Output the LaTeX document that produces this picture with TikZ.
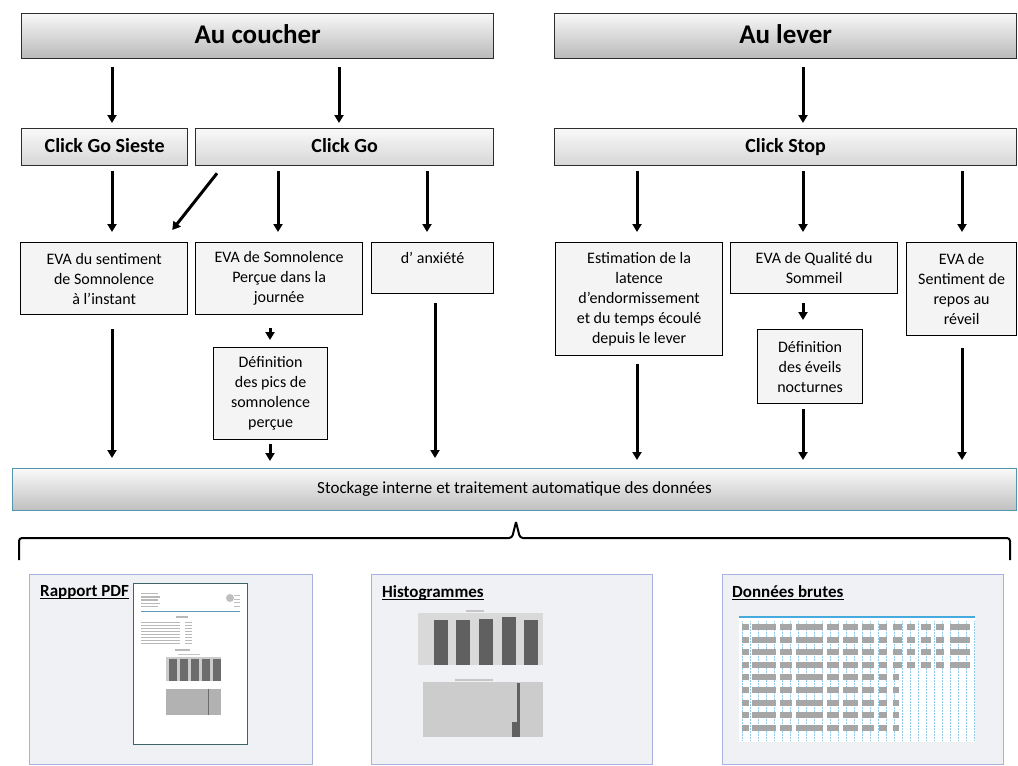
\documentclass[tikz,border=0pt]{standalone}
\usepackage{fontspec}
\setmainfont{Carlito}
\usetikzlibrary{arrows.meta, positioning, calc}
\definecolor{barborder}{RGB}{45,45,45}
\definecolor{panelfill}{RGB}{239,241,244}
\definecolor{panelline}{RGB}{168,178,222}
\definecolor{stockline}{RGB}{80,150,175}
\definecolor{pageline}{RGB}{60,100,105}
\definecolor{gridblue}{RGB}{70,170,220}

\tikzset{
  phase/.style={draw=barborder, line width=1.3pt, top color=gray!6, bottom color=gray!55,
    anchor=north west, inner sep=0pt, text height=19pt, text depth=5pt,
    font=\bfseries\fontsize{27}{30}\selectfont},
  clic/.style={draw=barborder, line width=1.3pt, top color=gray!5, bottom color=gray!32,
    anchor=north west, inner sep=0pt, text height=14pt, text depth=4pt,
    font=\bfseries\fontsize{20}{24}\selectfont},
  eva/.style={draw=black, line width=1.2pt, fill=gray!9, anchor=north west, align=center,
    inner sep=0pt, font=\fontsize{16}{20}\selectfont},
  panel/.style={draw=panelline, line width=1.2pt, fill=panelfill, anchor=north west, inner sep=0pt},
  titre/.style={inner sep=0pt, font=\bfseries\fontsize{17}{20}\selectfont},
  fleche/.style={-{Triangle[width=9pt,length=8pt]}, line width=3pt},
}

\begin{document}
\begin{tikzpicture}[x=1pt, y=-1pt]
  \useasboundingbox[fill=white] (0,0) rectangle (1018,766);

  % phases
  \node[phase, minimum width=472pt, minimum height=45pt] (coucher) at (21,13) {Au coucher};
  \node[phase, minimum width=462pt, minimum height=45pt] (lever) at (554,13) {Au lever};

  % clicks
  \node[clic, minimum width=166pt, minimum height=37pt] (sieste) at (21,128) {Click Go Sieste};
  \node[clic, minimum width=298pt, minimum height=37pt] (go) at (195,128) {Click Go};
  \node[clic, minimum width=462pt, minimum height=37pt] (stop) at (554,128) {Click Stop};

  % echelles
  \node[eva, minimum width=167pt, minimum height=72pt] (sentiment) at (20,242) {EVA du sentiment\\de Somnolence\\à l’instant};
  \node[eva, minimum width=167pt, minimum height=72pt] (journee) at (195,242) {EVA de Somnolence\\Perçue dans la\\journée};
  \node[eva, minimum width=122pt, minimum height=51pt] (anxiete) at (371,242) {d’ anxiété\\\mbox{}};
  \node[eva, minimum width=114pt, minimum height=92pt] (pics) at (213,347) {Définition\\des pics de\\somnolence\\perçue};
  \node[eva, minimum width=167pt, minimum height=113pt] (latence) at (555,242) {Estimation de la\\latence\\d’endormissement\\et du temps écoulé\\depuis le lever};
  \node[eva, minimum width=167pt, minimum height=51pt] (qualite) at (730,242) {EVA de Qualité du\\Sommeil};
  \node[eva, minimum width=105pt, minimum height=74pt] (eveils) at (757,329) {Définition\\des éveils\\nocturnes};
  \node[eva, minimum width=110pt, minimum height=93pt] (repos) at (906,242) {EVA de\\Sentiment de\\repos au\\réveil};

  \node[anchor=north west, draw=stockline, line width=1pt, top color=gray!4, bottom color=gray!50,
    minimum width=1004pt, minimum height=42pt, inner sep=0pt, font=\fontsize{17}{20}\selectfont]
    (stockage) at (12,468) {Stockage interne et traitement automatique des données};

  % colonnes des fleches
  \coordinate (xa) at (112,0);
  \coordinate (xb) at (339,0);
  \coordinate (xc) at (803,0);
  \coordinate (xd) at (278,0);
  \coordinate (xe) at (427,0);
  \coordinate (xf) at (637,0);
  \coordinate (xg) at (962,0);
  \coordinate (xh) at (270,0);
  \coordinate (xi) at (435,0);

  \draw[fleche, shorten <=8pt, shorten >=5pt] (coucher.south -| xa) -- (sieste.north -| xa);
  \draw[fleche, shorten <=8pt, shorten >=5pt] (coucher.south -| xb) -- (go.north -| xb);
  \draw[fleche, shorten <=8pt, shorten >=5pt] (lever.south -| xc) -- (stop.north -| xc);

  \draw[fleche, shorten <=5pt, shorten >=10pt] (sieste.south -| xa) -- (sentiment.north -| xa);
  \draw[fleche] ([shift={(22,7)}]go.south west) -- ([shift={(-16,-12)}]sentiment.north east);
  \draw[fleche, shorten <=5pt, shorten >=10pt] (go.south -| xd) -- (journee.north -| xd);
  \draw[fleche, shorten <=5pt, shorten >=10pt] (go.south -| xe) -- (anxiete.north -| xe);
  \draw[fleche, shorten <=5pt, shorten >=10pt] (stop.south -| xf) -- (latence.north -| xf);
  \draw[fleche, shorten <=5pt, shorten >=10pt] (stop.south -| xc) -- (qualite.north -| xc);
  \draw[fleche, shorten <=5pt, shorten >=10pt] (stop.south -| xg) -- (repos.north -| xg);

  \draw[fleche, shorten <=13pt, shorten >=7pt] (journee.south -| xh) -- (pics.north -| xh);
  \draw[fleche, shorten <=9pt, shorten >=9pt] (qualite.south -| xc) -- (eveils.north -| xc);

  \draw[fleche, shorten <=14pt, shorten >=10pt] (sentiment.south -| xa) -- (stockage.north -| xa);
  \draw[fleche, shorten <=4pt, shorten >=7pt] (pics.south -| xh) -- (stockage.north -| xh);
  \draw[fleche, shorten <=9pt, shorten >=10pt] (anxiete.south -| xi) -- (stockage.north -| xi);
  \draw[fleche, shorten <=8pt, shorten >=8pt] (latence.south -| xf) -- (stockage.north -| xf);
  \draw[fleche, shorten <=5pt, shorten >=8pt] (eveils.south -| xc) -- (stockage.north -| xc);
  \draw[fleche, shorten <=12pt, shorten >=8pt] (repos.south -| xg) -- (stockage.north -| xg);

  % accolade
  \draw[line width=2pt, rounded corners=3pt] (19,560) -- (19,538) -- (512,538) -- (516,522);
  \draw[line width=2pt, rounded corners=3pt] (516,522) -- (520,538) -- (1010,538) -- (1010,560);

  % sorties
  \node[panel, minimum width=283pt, minimum height=190pt] (rapport) at (29,574) {};
  \node[panel, minimum width=281pt, minimum height=190pt] (histo) at (371,574) {};
  \node[panel, minimum width=281pt, minimum height=190pt] (brutes) at (722,574) {};

  \node[titre, anchor=north west, below right=11pt and 11pt of rapport.north west] (trapport) {Rapport PDF};
  \node[titre, anchor=north west, below right=11pt and 11pt of histo.north west] (thisto) {Histogrammes};
  \node[titre, anchor=north west, below right=11pt and 10pt of brutes.north west] (tbrutes) {Données brutes};
  \foreach \t in {trapport, thisto, tbrutes}
    \draw[line width=1.5pt] ([yshift=-2.5pt]\t.base west) -- ([yshift=-2.5pt]\t.base east);

  % apercu du rapport
  \draw[pageline, fill=white, line width=1pt] (133,583) rectangle (247,744);
  \foreach \i in {0,...,4}
    \fill[gray!55] (141,{593+3.2*\i}) rectangle ({158+2*mod(\i,2)},{594.4+3.2*\i});
  \fill[gray!50] (230,598) circle (4);
  \foreach \i in {0,...,3}
    \fill[gray!50] (234,{595+3.5*\i}) rectangle (240,{596.2+3.5*\i});
  \draw[gridblue!60!gray, line width=0.8pt] (141,611) -- (240,611);
  \fill[gray!55] (176,616) rectangle (188,617.5);
  \foreach \i in {0,...,7} {
    \fill[gray!55] (141,{622+3*\i}) rectangle (180,{623.3+3*\i});
    \fill[gray!55] (185,{622+3*\i}) rectangle (192,{623.3+3*\i});
  }
  \fill[gray!55] (175,649) rectangle (190,650.5);
  \fill[gray!45] (178,654) rectangle (200,655);
  \fill[gray!40] (166,657) rectangle (221,681);
  \foreach \x in {169,180,191,202,213}
    \fill[gray!85!black] (\x,659) rectangle (\x+8,681);
  \fill[gray!60] (166,689) rectangle (221,715);
  \fill[gray!85!black] (207.5,689) rectangle (209,715);

  % apercu des histogrammes
  \fill[gray!45] (466,610) rectangle (484,611.5);
  \fill[gray!30] (418,613) rectangle (543,665);
  \foreach \x/\t in {434/620, 456/620, 479/619, 502/617, 524/620}
    \fill[gray!75!black] (\x,\t) rectangle (\x+14,665);
  \fill[gray!45] (455,679) rectangle (493,680.5);
  \fill[gray!40] (423,682) rectangle (543,737);
  \fill[gray!75!black] (517,683) rectangle (520,737);
  \fill[gray!75!black] (512,722) rectangle (517,737);

  % apercu des donnees brutes
  \fill[white] (739,618) rectangle (975,742);
  \draw[gridblue, line width=1.3pt] (739,617) -- (975,617);
  \foreach \x in {742,750,...,974}
    \draw[gridblue!60, densely dotted, line width=0.5pt] (\x,621) -- (\x,740);
  \foreach \r in {0,...,3}
    \foreach \x/\w in {742/7, 752/24, 780/12, 796/27, 827/12, 843/15, 862/12, 879/8, 893/9, 907/8, 921/10, 936/8, 950/20}
      \fill[gray!70] (\x,{624+12.6*\r}) rectangle ({\x+\w},{630+12.6*\r});
  \foreach \r in {4,...,8}
    \foreach \x/\w in {742/7, 752/24, 780/12, 796/27, 827/12, 843/15, 862/12, 879/8, 893/6}
      \fill[gray!70] (\x,{624+12.6*\r}) rectangle ({\x+\w},{630+12.6*\r});
\end{tikzpicture}
\end{document}
